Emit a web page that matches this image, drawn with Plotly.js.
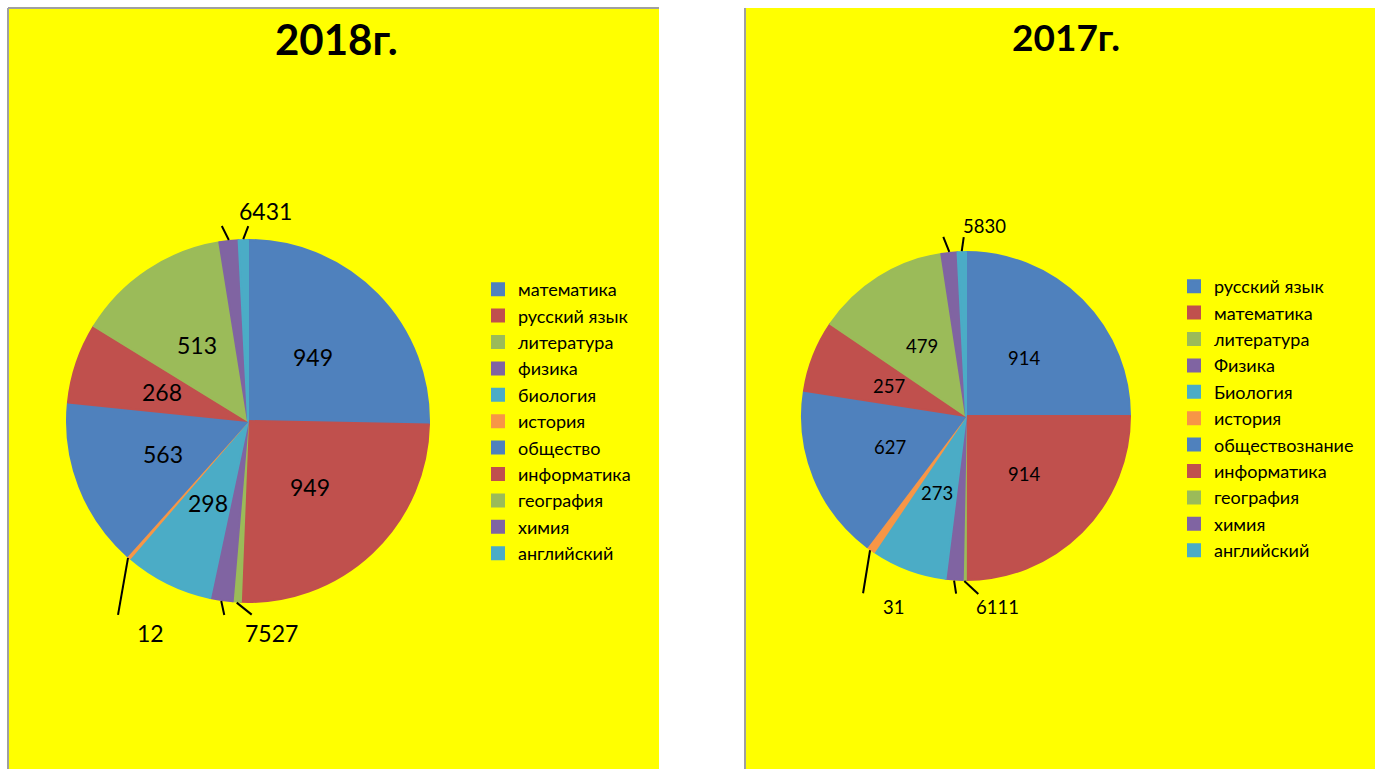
<!DOCTYPE html>
<html>
<head>
<meta charset="utf-8">
<script src="https://cdn.plot.ly/plotly-3.0.1.min.js"></script>
<style>html,body{margin:0;padding:0;background:#fff;overflow:hidden}</style>
</head>
<body>
<div id="chart" style="width:1375px;height:769px"></div>
<script>
// ---- data ----
const labels2018 = ['математика','русский язык','литература','физика','биология','история','общество','информатика','география','химия','английский'];
const values2018 = [949, 949, 27, 75, 298, 12, 563, 268, 513, 64, 31];
const labels2017 = ['русский язык','математика','литература','Физика','Биология','история','обществознание','информатика','география','химия','английский'];
const values2017 = [914, 914, 11, 61, 273, 31, 627, 257, 479, 58, 30];
const titles = ['2018г.', '2017г.'];

// ---- style / layout ----
const W = 1375, H = 769;
const palette = ['#4F81BD','#C0504D','#9BBB59','#8064A2','#4BACC6','#F79646','#4F81BD','#C0504D','#9BBB59','#8064A2','#4BACC6'];
const FONT = 'Lato, Carlito, "Open Sans", sans-serif';

const charts = [
  { labels: labels2018, values: values2018, title: titles[0],
    cx: 248, cy: 421, r: 182, labelSize: 23, titleX: 336, titleY: 39, titleSize: 42,
    legendX: 478, legendY: 271, legendId: 'legend', group: 'y2018',
    groups: [ {idx: [3, 2], dx: 50, dy: 32}, {idx: [5], dx: 22, dy: 75}, {idx: [9, 10], dx: 37, dy: -29} ],
    leaders: { 3: [3, 14], 2: [15, 12], 5: [-10, 57], 9: [-7, -14], 10: [5, -13] } },
  { labels: labels2017, values: values2017, title: titles[1],
    cx: 966, cy: 416, r: 165, labelSize: 18.5, titleX: 1066, titleY: 37, titleSize: 37,
    legendX: 1174, legendY: 268, legendId: 'legend2', group: 'y2017',
    groups: [ {idx: [3, 2], dx: 43, dy: 26}, {idx: [5], dx: 23, dy: 57}, {idx: [9, 10], dx: 35, dy: -26} ],
    leaders: { 3: [2, 13], 2: [14, 13], 5: [-7, 43], 9: [-6, -15], 10: [2, -14] } }
];

const px2x = p => p / W;
const px2y = p => 1 - p / H;

const traces = [];
const annotations = [];
const panelLine = { color: '#A0A0A0', width: 2 };
const shapes = [
  { type: 'rect', xref: 'paper', yref: 'paper', x0: px2x(8), x1: px2x(659), y0: px2y(780), y1: px2y(8),
    fillcolor: '#FFFF00', line: { width: 0 }, layer: 'below' },
  { type: 'rect', xref: 'paper', yref: 'paper', x0: px2x(745), x1: px2x(1390), y0: px2y(780), y1: px2y(8),
    fillcolor: '#FFFF00', line: { width: 0 }, layer: 'below' },
  { type: 'line', xref: 'paper', yref: 'paper', x0: px2x(8), x1: px2x(8), y0: px2y(780), y1: px2y(8), line: panelLine, layer: 'below' },
  { type: 'line', xref: 'paper', yref: 'paper', x0: px2x(8), x1: px2x(659), y0: px2y(8), y1: px2y(8), line: panelLine, layer: 'below' },
  { type: 'line', xref: 'paper', yref: 'paper', x0: px2x(745), x1: px2x(745), y0: px2y(780), y1: px2y(8), line: panelLine, layer: 'below' }
];
const legends = {};

charts.forEach(c => {
  traces.push({
    type: 'pie', labels: c.labels, values: c.values, sort: false, direction: 'clockwise', rotation: 0,
    marker: { colors: palette, line: { color: palette, width: 2 } },
    textinfo: 'none', hoverinfo: 'label+value+percent',
    domain: { x: [px2x(c.cx - c.r + 1), px2x(c.cx + c.r - 1)], y: [px2y(c.cy + c.r - 1), px2y(c.cy - c.r + 1)] },
    legend: c.legendId, legendgroup: c.group, showlegend: true
  });
  legends[c.legendId] = {
    x: px2x(c.legendX), y: px2y(c.legendY), xanchor: 'left', yanchor: 'top',
    bgcolor: 'rgba(0,0,0,0)', borderwidth: 0,
    font: { family: FONT, size: 18, color: '#000' }
  };
  // slice geometry from values
  const total = c.values.reduce((a, b) => a + b, 0);
  let cum = 0;
  const mids = c.values.map(v => { const m = (cum + v / 2) / total * 2 * Math.PI; cum += v; return m; });
  const edge = i => [c.cx + c.r * Math.sin(mids[i]), c.cy - c.r * Math.cos(mids[i])];
  const outside = new Set();
  c.groups.forEach(g => g.idx.forEach(i => outside.add(i)));
  // inside labels at half radius
  c.values.forEach((v, i) => {
    if (outside.has(i)) return;
    const x = c.cx + 0.5 * c.r * Math.sin(mids[i]);
    const y = c.cy - 0.5 * c.r * Math.cos(mids[i]);
    annotations.push({ xref: 'paper', yref: 'paper', x: px2x(x), y: px2y(y), text: String(v), showarrow: false,
      xanchor: 'center', yanchor: 'middle', font: { family: FONT, size: c.labelSize, color: '#000' } });
  });
  // outside labels
  c.groups.forEach(g => {
    const e = edge(g.idx[0]);
    annotations.push({ xref: 'paper', yref: 'paper', x: px2x(e[0] + g.dx), y: px2y(e[1] + g.dy),
      text: g.idx.map(i => String(c.values[i])).join(''), showarrow: false,
      xanchor: 'center', yanchor: 'middle', font: { family: FONT, size: c.labelSize, color: '#000' } });
  });
  Object.keys(c.leaders).forEach(k => {
    const i = +k; const e = edge(i); const d = c.leaders[k];
    shapes.push({ type: 'line', xref: 'paper', yref: 'paper', x0: px2x(e[0]), y0: px2y(e[1]),
      x1: px2x(e[0] + d[0]), y1: px2y(e[1] + d[1]), line: { color: '#000', width: 2 } });
  });
  annotations.push({ xref: 'paper', yref: 'paper', x: px2x(c.titleX), y: px2y(c.titleY), text: c.title, showarrow: false,
    xanchor: 'center', yanchor: 'middle', font: { family: FONT, size: c.titleSize, color: '#000', weight: 'bold' } });
});

const layout = Object.assign({
  width: W, height: H, margin: { l: 0, r: 0, t: 0, b: 0 },
  paper_bgcolor: '#FFFFFF', plot_bgcolor: 'rgba(0,0,0,0)',
  showlegend: true, annotations: annotations, shapes: shapes
}, legends);

Plotly.newPlot('chart', traces, layout, { displayModeBar: false, staticPlot: true });
</script>
</body>
</html>
